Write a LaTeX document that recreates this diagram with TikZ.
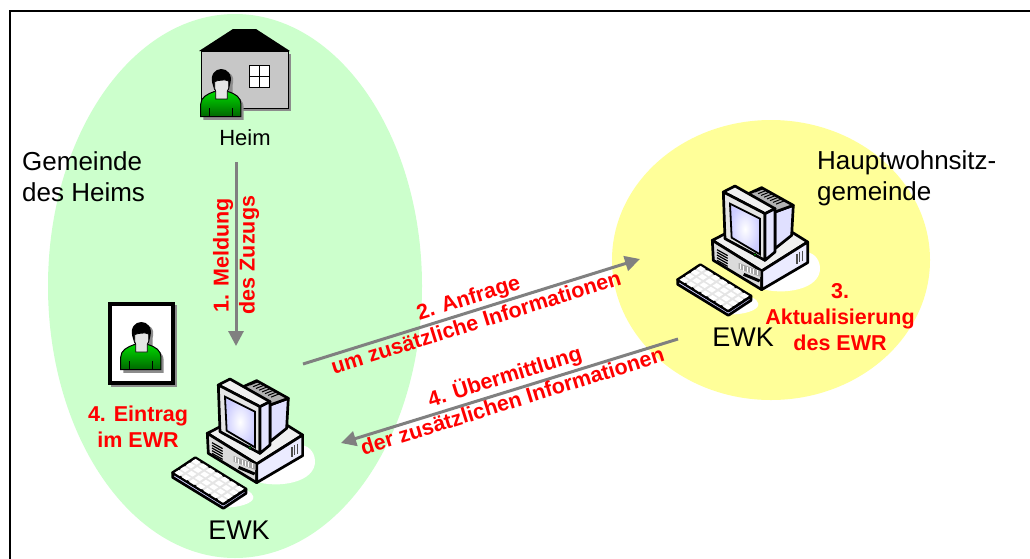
\documentclass[tikz,border=0pt]{standalone}
\usepackage{fontspec}
\setmainfont{Liberation Sans}
\usetikzlibrary{arrows.meta}
\definecolor{gcol}{HTML}{CCFFCC}
\definecolor{ycol}{HTML}{FFFF99}
\definecolor{arrcol}{HTML}{808080}
\tikzset{
  px/.style={x=1pt,y=-1pt},
  flow/.style={draw=arrcol,line width=3pt,-{Triangle[length=15pt,width=15pt]}},
  lab/.style={font=\fontsize{26}{31}\selectfont,align=left,anchor=north west,inner sep=0pt},
  ewklab/.style={font=\fontsize{27}{31}\selectfont,inner sep=0pt},
  rlab/.style={font=\fontsize{21.5}{26}\selectfont\bfseries,text=red,align=center,inner sep=0pt},
  ol/.style={draw=black,line width=2.7pt,line join=round},
  pics/person/.style={code={
    \begin{scope}[x=0.3333pt,y=-0.3333pt]
      % shadow
      \fill[black!45] (100,315) -- (100,278) .. controls (100,255) and (120,245) .. (140,238) -- (183,238) .. controls (205,245) and (221,255) .. (221,278) -- (221,315) -- cycle;
      \fill[black!45] (134,210) .. controls (126,178) and (146,170) .. (161,170) .. controls (176,170) and (196,178) .. (188,210) -- (188,240) -- (134,240) -- cycle;
      % body
      \draw[line width=1pt,top color=green!85!black,bottom color=green!40!black]
        (92,305) -- (92,268) .. controls (92,247) and (112,237) .. (132,230) -- (175,230) .. controls (197,237) and (213,247) .. (213,268) -- (213,305) -- cycle;
      \draw[line width=.8pt] (118,280) -- (118,305) (188,280) -- (188,305);
      % hair
      \fill[black] (127,205) .. controls (120,178) and (136,162) .. (154,162) .. controls (172,162) and (188,178) .. (181,205) -- (176,225) -- (133,225) -- cycle;
      % face and neck
      \draw[fill=black!10,line width=.8pt] (134,200) -- (134,220) -- (137,228) -- (137,252) -- (172,252) -- (172,228) -- (176,220) -- (176,198) .. controls (170,194) and (160,194) .. (150,196) .. controls (145,197) and (138,197) .. (134,200) -- cycle;
    \end{scope}
  }},
  pics/computer/.style={code={
    \begin{scope}[x=0.3333pt,y=-0.3333pt]
      % white shadows
      \fill[white] (500,575) .. controls (560,595) and (680,580) .. (675,510) .. controls (672,480) and (650,465) .. (630,465) -- cycle;
      \fill[white] (400,652) .. controls (440,655) and (495,640) .. (490,620) .. controls (485,605) and (470,600) .. (460,600) -- cycle;
      % base
      \draw[ol,fill=black!6] (352,430) -- (420,395) -- (590,405) -- (638,435) -- (500,522) -- cycle;
      \draw[ol,fill=black!14] (352,430) -- (355,490) -- (500,578) -- (500,522) -- cycle;
      \draw[ol,fill=blue!8!white] (500,522) -- (500,578) -- (638,497) -- (638,435) -- cycle;
      \foreach \yy in {458,466,474,482,490} \draw[line width=1.2pt] (366,\yy) -- (398,\yy+18);
      \fill[black!35] (431,498) -- (497,522) -- (497,540) -- (431,515) -- cycle;
      \foreach \xx in {436,446,456,466,476,486} \draw[white,line width=.6pt] (\xx,{\xx*0.36+345}) -- (\xx,{\xx*0.36+360});
      \draw[black,line width=3pt] (446,532) -- (494,552);
      \foreach \xx in {606,614,622} \draw[black!70,line width=1.4pt] (\xx,{470-(\xx-606)*0.55}) -- (\xx,{500-(\xx-606)*0.55});
      % rear of monitor
      \draw[ol,fill=blue!12!white] (540,345) -- (595,325) -- (590,415) -- (540,455) -- cycle;
      \draw[ol,fill=black!30] (460,290) -- (500,272) -- (595,325) -- (540,345) -- cycle;
      \foreach \ss in {0,1,...,7} \draw[line width=1pt] ({480+\ss*9},{285+\ss*5.2}) -- ({505+\ss*9},{275+\ss*5.2});
      % monitor
      \draw[ol,fill=black!6] (385,285) -- (420,267) -- (540,335) -- (510,350) -- cycle;
      \draw[ol,fill=black!10] (385,285) -- (510,350) -- (510,490) -- (390,425) -- cycle;
      \draw[ol,fill=blue!10!white] (510,350) -- (540,335) -- (540,465) -- (510,490) -- cycle;
      \draw[line width=1.8pt,inner color=white,outer color=blue!20!white] (405,320) -- (495,365) -- (495,472) -- (410,422) -- cycle;
      \draw[line width=.7pt,fill=green!60!black] (480,473) circle (5);
      % keyboard
      \draw[ol,fill=blue!18!white] (248,548) -- (248,562) -- (400,655) -- (468,610) -- (468,597) -- (400,642) -- cycle;
      \draw[ol,fill=black!10] (248,548) -- (316,503) -- (468,597) -- (400,642) -- cycle;
      \foreach \ii in {0,...,6} \foreach \jj in {0,...,3}
        \fill[white] ({316+(\ii+.15)*21.7-(\jj+.15)*17},{503+(\ii+.15)*13.4+(\jj+.15)*11.25}) -- ++(15,9.4) -- ++(-12,7.9) -- ++(-15,-9.4) -- cycle;
    \end{scope}
  }}
}
\begin{document}
\begin{tikzpicture}[px]
\useasboundingbox (0,0) rectangle (1030,558);
\clip (0,0) rectangle (1030,558);
\fill[white] (0,0) rectangle (1030,558);
% regions
\fill[gcol] (235,286) ellipse [x radius=187,y radius=272];
\fill[ycol] (771,260) ellipse [x radius=159,y radius=140];
% frame
\draw[black,line width=2pt] (10,580) -- (10,11) -- (1040,11);
% house
\fill[black!45] (204,54) rectangle (291,111);
\draw[fill=black!22,line width=1pt] (201,51) rectangle (288,108);
\fill[black] (199,51) -- (233,29) -- (256,29) -- (290,51) -- cycle;
\draw[fill=white,line width=1pt] (249,65) rectangle (269,87);
\draw[line width=1pt] (259,65) -- (259,87) (249,76) -- (269,76);
\pic at (170,15) {person};
% portrait
\fill[black!45] (111,305) rectangle (177,387);
\draw[fill=white,line width=4.5pt] (110,304) rectangle (173,383);
\pic at (90,268) {person};
% computers
\pic at (90,290) {computer};
\pic at (595,97) {computer};
% text
\node[font=\fontsize{22}{26}\selectfont,inner sep=0pt] (heim) at (245,138) {Heim};
\node[lab] (gem) at (22,151) {Gemeinde\\des Heims};
\node[lab] (haupt) at (817,150) {Hauptwohnsitz-\\gemeinde};
\node[ewklab] (ewk1) at (239,530) {EWK};
\node[ewklab] (ewk2) at (743,337) {EWK};
% connectors
\coordinate (a1s) at (236,162); \coordinate (a1e) at (236,346);
\coordinate (a2s) at (303,364); \coordinate (a2e) at (640,259);
\coordinate (a3s) at (678,339); \coordinate (a3e) at (341,443);
\draw[flow] (a1s) -- (a1e);
\draw[flow] (a2s) -- (a2e);
\draw[flow] (a3s) -- (a3e);
% red labels
\node[rlab,rotate=90] (l1) at (236,255) {1. Meldung\\des Zuzugs};
\node[rlab,rotate=17.3] (l2) at (472,309.5) {2. Anfrage\\um zusätzliche Informationen};
\node[rlab,rotate=17.3] (l4) at (508,387) {4. Übermittlung\\der zusätzlichen Informationen};
\node[rlab] (l3) at (840,317) {3.\\Aktualisierung\\des EWR};
\node[rlab] (l5) at (138,427) {4. Eintrag\\im EWR};
\end{tikzpicture}
\end{document}
